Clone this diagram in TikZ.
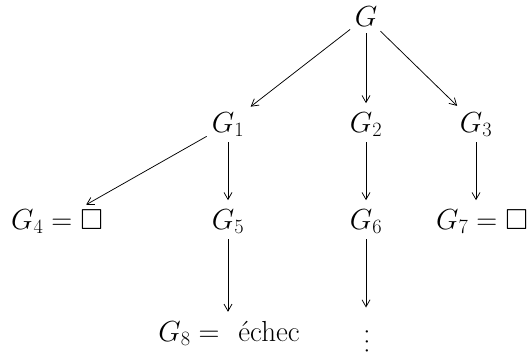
\documentclass[tikz,border=0pt]{standalone}
\usepackage{fix-cm}
\usepackage{amssymb}
\usepackage{fontspec}
\usetikzlibrary{arrows.meta}
\tikzset{
  lbl/.style={anchor=base, inner sep=0pt, outer sep=0pt, font=\fontsize{29}{34}\selectfont},
  arr/.style={-{Straight Barb[length=7pt,width=8pt]}, line width=0.75pt, shorten <=6pt, shorten >=9pt},
}
\begin{document}
\begin{tikzpicture}[x=1pt,y=-1pt]
\useasboundingbox (0,0) rectangle (532,356);
\node[lbl] (G)  at (366,27)  {$G$};
\node[lbl] (G1) at (228,132) {$G_1$};
\node[lbl] (G2) at (366,132) {$G_2$};
\node[lbl] (G3) at (476,132) {$G_3$};
\node[lbl] (G4) at (57,229)  {$G_4 = \square$};
\node[lbl] (G5) at (228,229) {$G_5$};
\node[lbl] (G6) at (366,229) {$G_6$};
\node[lbl] (G7) at (482,229) {$G_7 = \square$};
\node[lbl] (G8) at (229,341) {$G_8 =$\hspace{0.35em} échec};
\node[rotate=90, inner sep=0pt, outer sep=0pt, font=\fontsize{29}{34}\selectfont] (D) at (367,341.5) {.\kern2.5pt.\kern2.5pt.};
\draw[arr] (G) -- (G1);
\draw[arr] (G) -- (G2);
\draw[arr] (G) -- (G3);
\draw[arr] (G1) -- (G4);
\draw[arr] (G1) -- (G5);
\draw[arr] (G2) -- (G6);
\draw[arr] (G3.south) -- (G3.south |- G7.north);
\draw[arr] (G5.south) -- (G5.south |- G8.north);
\draw[arr, shorten >=34pt] (G6.south) -- (G6.south |- D.center);
\end{tikzpicture}
\end{document}
